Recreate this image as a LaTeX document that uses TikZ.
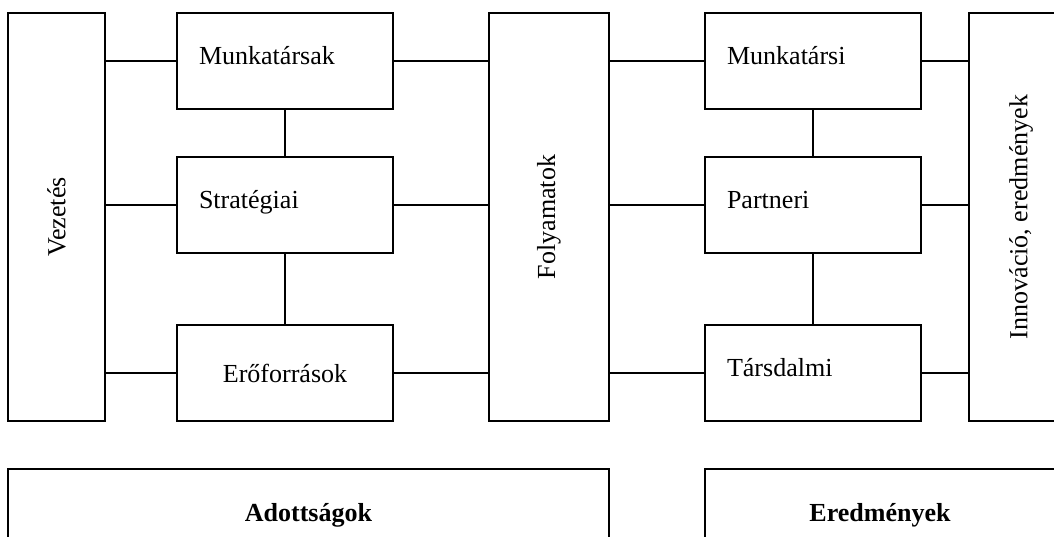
\documentclass[tikz,border=0pt]{standalone}
\usepackage{fontspec}
\setmainfont{Liberation Serif}
\begin{document}
\begin{tikzpicture}
        [x=0.0162cm, y=-0.0162cm,
        box/.style={draw, line width=0.92pt, font=\fontsize{12}{14}\selectfont},
        tall/.style={box, minimum height=6.61cm},
        small/.style={box, minimum width=3.499cm, minimum height=1.55cm, inner xsep=0.356cm, text width=2.787cm, align=left, text height=9pt, text depth=6pt},
        result/.style={box, minimum height=1.49cm, font=\fontsize{12}{14}\selectfont\bfseries},
        link/.style={line width=0.92pt}]

        % picture frame, the bottom row runs past it
        \clip (0,0) rectangle (1054,537);

        % tall columns
        \node[tall, minimum width=1.571cm] (vez) at (56.5,217) {};
        \node[tall, minimum width=1.944cm] (foly) at (549,217) {};
        \node[tall, minimum width=1.685cm] (inno) at (1021,217) {};
        \node[rotate=90, font=\fontsize{12}{14}\selectfont] (vezt) at (vez) {Vezetés};
        \node[rotate=90, font=\fontsize{12}{14}\selectfont] (folyt) at (foly) {Folyamatok};
        \node[rotate=90, font=\fontsize{12}{14}\selectfont] (innot) at (inno) {Innováció, eredmények};

        % enablers
        \node[small] (munka) at (285,61) {Munkatársak};
        \node[small] (strat) at (285,205) {Stratégiai};
        \node[small, align=center, text depth=, text height=] (eroforr) at (285,373) {Erőforrások};

        % results
        \node[small] (munkaer) at (813,61) {Munkatársi};
        \node[small] (partner) at (813,205) {Partneri};
        \node[small] (tars) at (813,373) {Társdalmi};

        % bottom row
        \node[result, minimum width=9.736cm] (adott) at (308.5,515) {Adottságok};
        \node[result, minimum width=5.67cm] (eredm) at (880,515) {Eredmények};

        % links to the left column
        \draw[link] (munka.west -| vez.east) -- (munka.west);
        \draw[link] (strat.west -| vez.east) -- (strat.west);
        \draw[link] (eroforr.west -| vez.east) -- (eroforr.west);
        % links to the processes
        \draw[link] (munka.east) -- (munka.east -| foly.west);
        \draw[link] (strat.east) -- (strat.east -| foly.west);
        \draw[link] (eroforr.east) -- (eroforr.east -| foly.west);
        \draw[link] (munkaer.west -| foly.east) -- (munkaer.west);
        \draw[link] (partner.west -| foly.east) -- (partner.west);
        \draw[link] (tars.west -| foly.east) -- (tars.west);
        % links to the right column
        \draw[link] (munkaer.east) -- (munkaer.east -| inno.west);
        \draw[link] (partner.east) -- (partner.east -| inno.west);
        \draw[link] (tars.east) -- (tars.east -| inno.west);

        % vertical links
        \draw[link] (munka) -- (strat);
        \draw[link] (strat) -- (eroforr);
        \draw[link] (munkaer) -- (partner);
        \draw[link] (partner) -- (tars);

    \end{tikzpicture}
\end{document}
